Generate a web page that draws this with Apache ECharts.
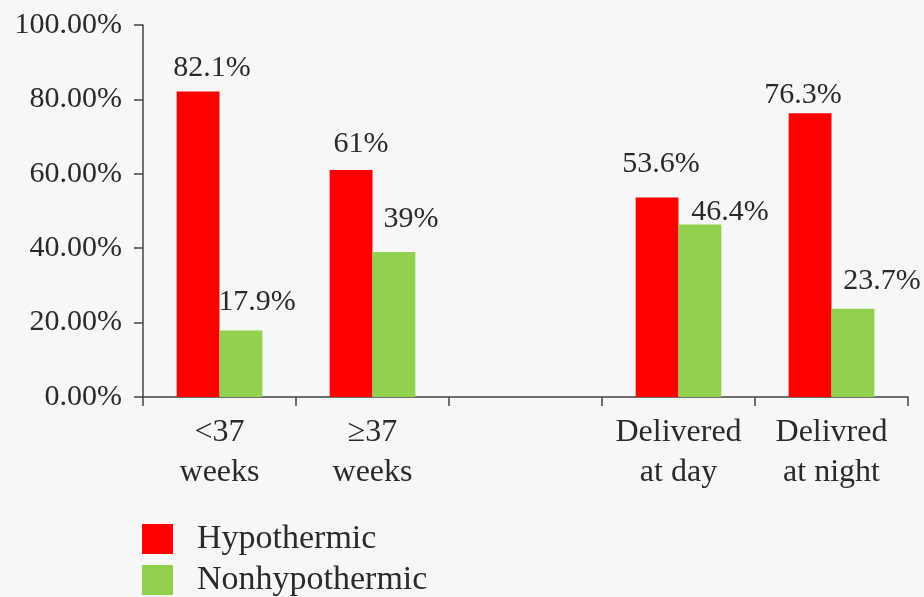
<!DOCTYPE html>
<html>
<head>
<meta charset="utf-8">
<script src="https://cdn.jsdelivr.net/npm/echarts@6/dist/echarts.min.js"></script>
<style>
  html, body { margin: 0; padding: 0; background: #f7f7f7; }
  #chart { width: 924px; height: 597px; }
</style>
</head>
<body>
<div id="chart"></div>
<script>
// Categories along the x axis (the third slot is an intentional gap between groups)
const categories = ['<37\nweeks', '\u226537\nweeks', '', 'Delivered\nat day', 'Delivred\nat night'];
// Percentages per group
const hypothermic = [82.1, 61, null, 53.6, 76.3];
const nonhypothermic = [17.9, 39, null, 46.4, 23.7];
const seriesNames = ['Hypothermic', 'Nonhypothermic'];

// Hand-placed nudges for the value labels, [dx, dy] in pixels
const hypoNudge = [[14, -3], [10, -6], [0, 0], [4, -13], [-7, 2]];
const nonNudge = [[16, -8], [17, -13], [0, 0], [30, 8], [29, -8]];

const FONT = '"Liberation Serif", "Times New Roman", serif';
const TEXT = '#2a2a2a';

function withLabels(values, nudges) {
  return values.map((v, i) => v === null ? null : {
    value: v,
    label: { offset: nudges[i] }
  });
}

// One legend block per series so the entries stack in a column
function legendEntry(name, top) {
  return {
    left: 142,
    top: top,
    padding: 0,
    itemWidth: 31,
    itemHeight: 30,
    icon: 'rect',
    data: [name],
    textStyle: { fontFamily: FONT, fontSize: 34, lineHeight: 30, color: TEXT, padding: [0, 0, 0, 19] }
  };
}

const chart = echarts.init(document.getElementById('chart'), null, { renderer: 'canvas' });
chart.setOption({
  backgroundColor: '#f7f7f7',
  animation: false,
  textStyle: { fontFamily: FONT },
  grid: { left: 143, right: 16, top: 25, bottom: 200 },
  legend: [legendEntry(seriesNames[0], 522), legendEntry(seriesNames[1], 563)],
  xAxis: {
    type: 'category',
    data: categories,
    boundaryGap: true,
    axisLine: { lineStyle: { color: '#444', width: 1.5 } },
    axisTick: { show: true, interval: 0, length: 9, lineStyle: { color: '#444', width: 1.5 } },
    axisLabel: {
      interval: 0,
      margin: 16,
      fontFamily: FONT,
      fontSize: 32,
      lineHeight: 40,
      color: TEXT
    }
  },
  yAxis: {
    type: 'value',
    min: 0,
    max: 100,
    interval: 20,
    splitLine: { show: false },
    axisLine: { show: true, lineStyle: { color: '#444', width: 1.5 } },
    axisTick: { show: true, inside: false, length: 9, lineStyle: { color: '#444', width: 1.5 } },
    axisLabel: {
      margin: 21,
      fontFamily: FONT,
      fontSize: 30,
      color: TEXT,
      formatter: v => v.toFixed(2) + '%'
    }
  },
  series: [
    {
      name: seriesNames[0],
      type: 'bar',
      data: withLabels(hypothermic, hypoNudge),
      itemStyle: { color: '#ff0000' },
      barGap: '0%',
      barCategoryGap: '44%',
      label: {
        show: true,
        position: 'top',
        fontFamily: FONT,
        fontSize: 30,
        color: TEXT,
        formatter: p => p.value + '%'
      }
    },
    {
      name: seriesNames[1],
      type: 'bar',
      data: withLabels(nonhypothermic, nonNudge),
      itemStyle: { color: '#92d050' },
      barGap: '0%',
      barCategoryGap: '44%',
      label: {
        show: true,
        position: 'top',
        fontFamily: FONT,
        fontSize: 30,
        color: TEXT,
        formatter: p => p.value + '%'
      }
    }
  ]
});
</script>
</body>
</html>
